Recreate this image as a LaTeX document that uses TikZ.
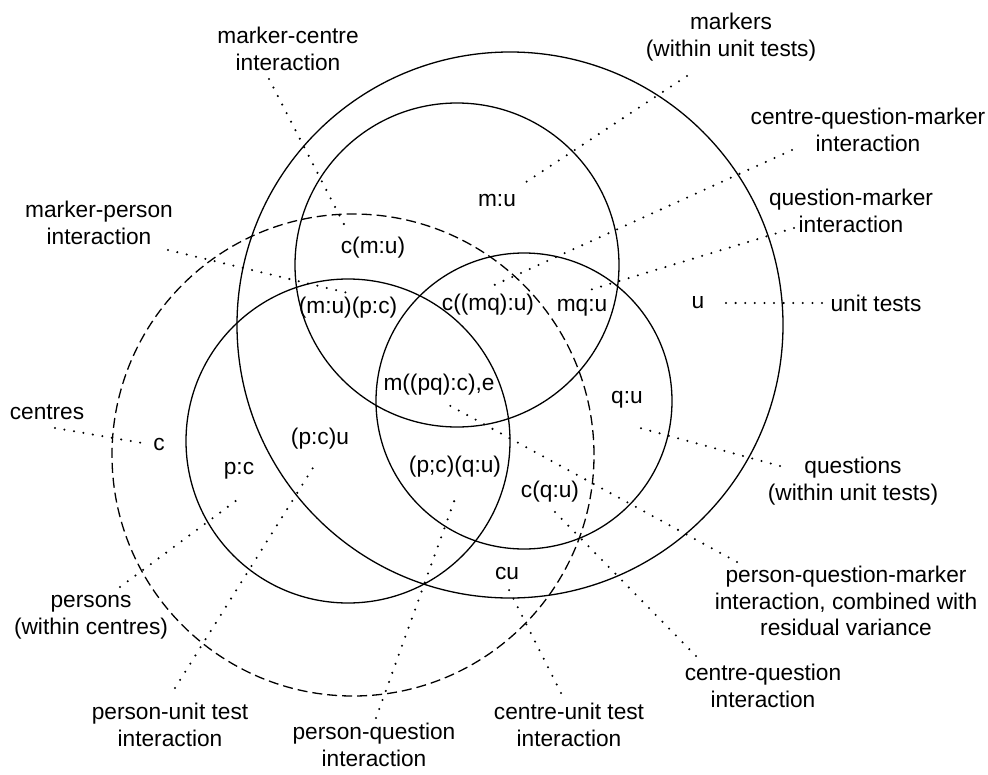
\documentclass[tikz,border=0pt]{standalone}
\usepackage{fontspec}
\setmainfont{Liberation Sans}
\begin{document}
\begin{tikzpicture}[x=1pt,y=-1pt,
    lab/.style={align=center,inner sep=0pt,font=\fontsize{22.7}{26.5}\selectfont},
    leader/.style={line width=2.3pt,dash pattern=on 0pt off 9.6pt,line cap=round}]
\useasboundingbox (0,0) rectangle (988,774);
% the five sets
\draw[line width=1.3pt] (510,325) circle (273pt); % u
\draw[line width=1.3pt] (457,265) circle (162pt); % m
\draw[line width=1.3pt] (348,441) circle (162pt); % p
\draw[line width=1.3pt] (524,401) circle (148pt); % q
\draw[dash pattern=on 10pt off 5pt,line width=1.3pt] (353,455) circle (241pt); % c
% labels inside
\node[lab] (mu)   at (497,200) {m:u};
\node[lab] (cmu)  at (373,248) {c(m:u)};
\node[lab] (mupc) at (348,308) {(m:u)(p:c)};
\node[lab] (cmqu) at (488,305) {c((mq):u)};
\node[lab] (mqu)  at (582,308) {mq:u};
\node[lab] (u)    at (698,303) {u};
\node[lab] (mpqc) at (439,385) {m((pq):c),e};
\node[lab] (qu)   at (627,400) {q:u};
\node[lab] (c)    at (159,444) {c};
\node[lab] (pcu)  at (320,439) {(p:c)u};
\node[lab] (pc)   at (239,471) {p:c};
\node[lab] (pcqu) at (455,467) {(p;c)(q:u)};
\node[lab] (cqu)  at (550,492) {c(q:u)};
\node[lab] (cu)   at (507,573) {cu};
% labels outside
\node[lab] (lmc)  at (288,49)  {marker-centre\\interaction};
\node[lab] (lm)   at (731,37)  {markers\\(within unit tests)};
\node[lab] (lcqm) at (868,130) {centre-question-marker\\interaction};
\node[lab] (lqm)  at (851,211) {question-marker\\interaction};
\node[lab] (lu)   at (876,303) {unit tests};
\node[lab] (lmp)  at (99,223)  {marker-person\\interaction};
\node[lab] (lc)   at (47,412)  {centres};
\node[lab] (lp)   at (91,617)  {persons\\(within centres)};
\node[lab] (lpu)  at (170,725) {person-unit test\\interaction};
\node[lab] (lpq)  at (374,745) {person-question\\interaction};
\node[lab] (lcu)  at (569,725) {centre-unit test\\interaction};
\node[lab] (lcq)  at (763,686) {centre-question\\interaction};
\node[lab] (lpqm) at (846,601) {person-question-marker\\interaction, combined with\\residual variance};
\node[lab] (lq)   at (853,481) {questions\\(within unit tests)};
% leader ends
\coordinate (amc) at (269,79);   \coordinate (bmc) at (348,232);
\coordinate (amp) at (168,250);  \coordinate (bmp) at (348,293);
\coordinate (am)  at (687,76);   \coordinate (bm)  at (523,184);
\coordinate (acqm) at (792,150); \coordinate (bcqm) at (490,287);
\coordinate (aqm) at (794,228);  \coordinate (bqm) at (583,292);
\coordinate (au)  at (822,303);  \coordinate (bu)  at (726,303);
\coordinate (ac)  at (55,428);   \coordinate (bc)  at (148,444);
\coordinate (ap)  at (120,587);  \coordinate (bp)  at (241,497);
\coordinate (apu) at (175,688);  \coordinate (bpu) at (316,463);
\coordinate (apq) at (376,718);  \coordinate (bpq) at (456,496);
\coordinate (acu) at (561,693);  \coordinate (bcu) at (509,590);
\coordinate (acq) at (696,656);  \coordinate (bcq) at (551,508);
\coordinate (apqm) at (737,562); \coordinate (bpqm) at (445,403);
\coordinate (aq)  at (780,466);  \coordinate (bq)  at (640,428);
% dotted leaders
\foreach \a/\b in {amc/bmc,amp/bmp,am/bm,acqm/bcqm,aqm/bqm,au/bu,ac/bc,ap/bp,
                   apu/bpu,apq/bpq,acu/bcu,acq/bcq,apqm/bpqm,aq/bq}
  \draw[leader] (\a) -- (\b);
\end{tikzpicture}
\end{document}
